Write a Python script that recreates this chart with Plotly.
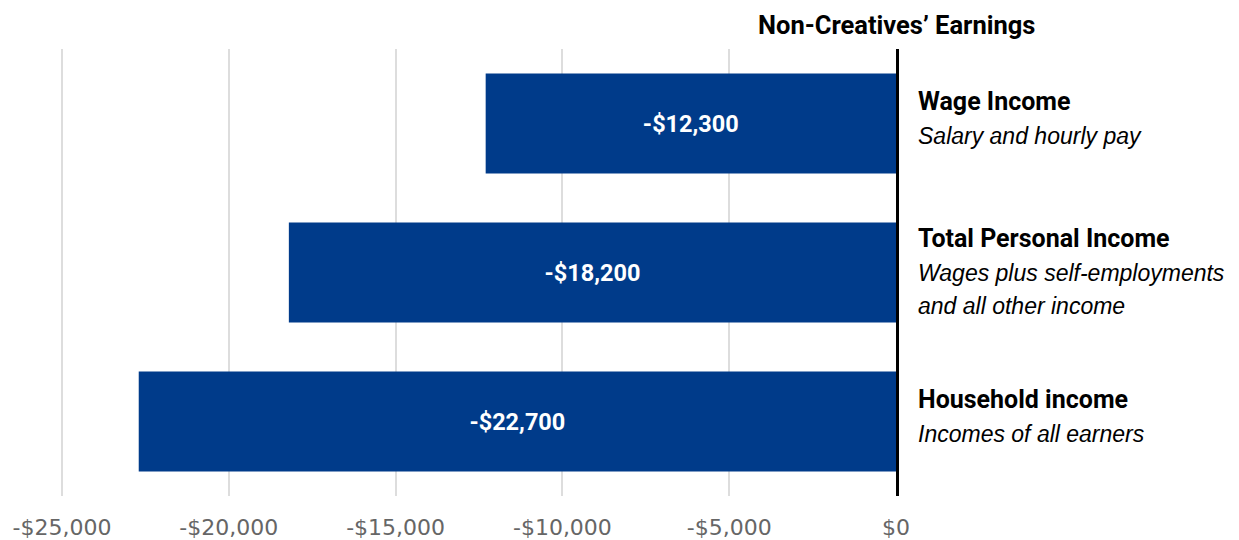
import plotly.graph_objects as go

categories = ["Wage Income", "Total Personal Income", "Household income"]
subtitles = ["Salary and hourly pay",
             "Wages plus self-employments<br>and all other income",
             "Incomes of all earners"]
values = [-12300, -18200, -22700]
bar_labels = ["-$12,300", "-$18,200", "-$22,700"]
tick_vals = [-25000, -20000, -15000, -10000, -5000, 0]
tick_text = ["-$25,000", "-$20,000", "-$15,000", "-$10,000", "-$5,000", "$0"]
title_text = "Non-Creatives’ Earnings"

BAR = "#003B8A"
COND = "Roboto, Arial, sans-serif"
REG = "Liberation Sans, Arial, sans-serif"

fig = go.Figure(go.Bar(
    y=categories, x=values, orientation="h",
    marker=dict(color=BAR, line=dict(width=0)),
    text=bar_labels, textposition="inside", insidetextanchor="middle",
    textfont=dict(color="white", size=23.5, family=COND),
    texttemplate="<b>%{text}</b>", hoverinfo="skip",
))

fig.update_layout(
    width=1239, height=540,
    margin=dict(l=60, r=343, t=49, b=44, autoexpand=False),
    plot_bgcolor="white", paper_bgcolor="white",
    bargap=0.33, showlegend=False,
    xaxis=dict(range=[-25060, 0], tickvals=tick_vals, ticktext=tick_text,
               showgrid=True, gridcolor="#dddddd", gridwidth=2,
               zeroline=False, showline=False, automargin=False,
               ticks="outside", ticklen=12, tickcolor="rgba(0,0,0,0)",
               tickfont=dict(size=22, color="#666666", family="DejaVu Sans, sans-serif")),
    yaxis=dict(autorange="reversed", showticklabels=False, showgrid=False,
               zeroline=False, showline=True, side="right",
               linecolor="black", linewidth=2.5, automargin=False),
)

fig.add_annotation(xref="x", yref="paper", x=0, y=1, yshift=7,
                   text="<b>" + title_text + "</b>", showarrow=False,
                   xanchor="center", yanchor="bottom",
                   font=dict(size=25.5, color="black", family=COND))

for c, s in zip(categories, subtitles):
    lines = s.split("<br>")
    off = 12 * (len(lines) - 1)
    fig.add_annotation(xref="paper", yref="y", x=1, y=c, xshift=20,
                       yshift=22.5 + off,
                       text="<b>" + c + "</b>", showarrow=False,
                       xanchor="left", yanchor="middle",
                       font=dict(size=25, color="black", family=COND))
    for k, ln in enumerate(lines):
        fig.add_annotation(xref="paper", yref="y", x=1, y=c, xshift=20,
                           yshift=-12.5 + off - 33 * k,
                           text="<i>" + ln + "</i>", showarrow=False,
                           xanchor="left", yanchor="middle", align="left",
                           font=dict(size=23, color="black", family=REG))

fig.write_html("out.html")
